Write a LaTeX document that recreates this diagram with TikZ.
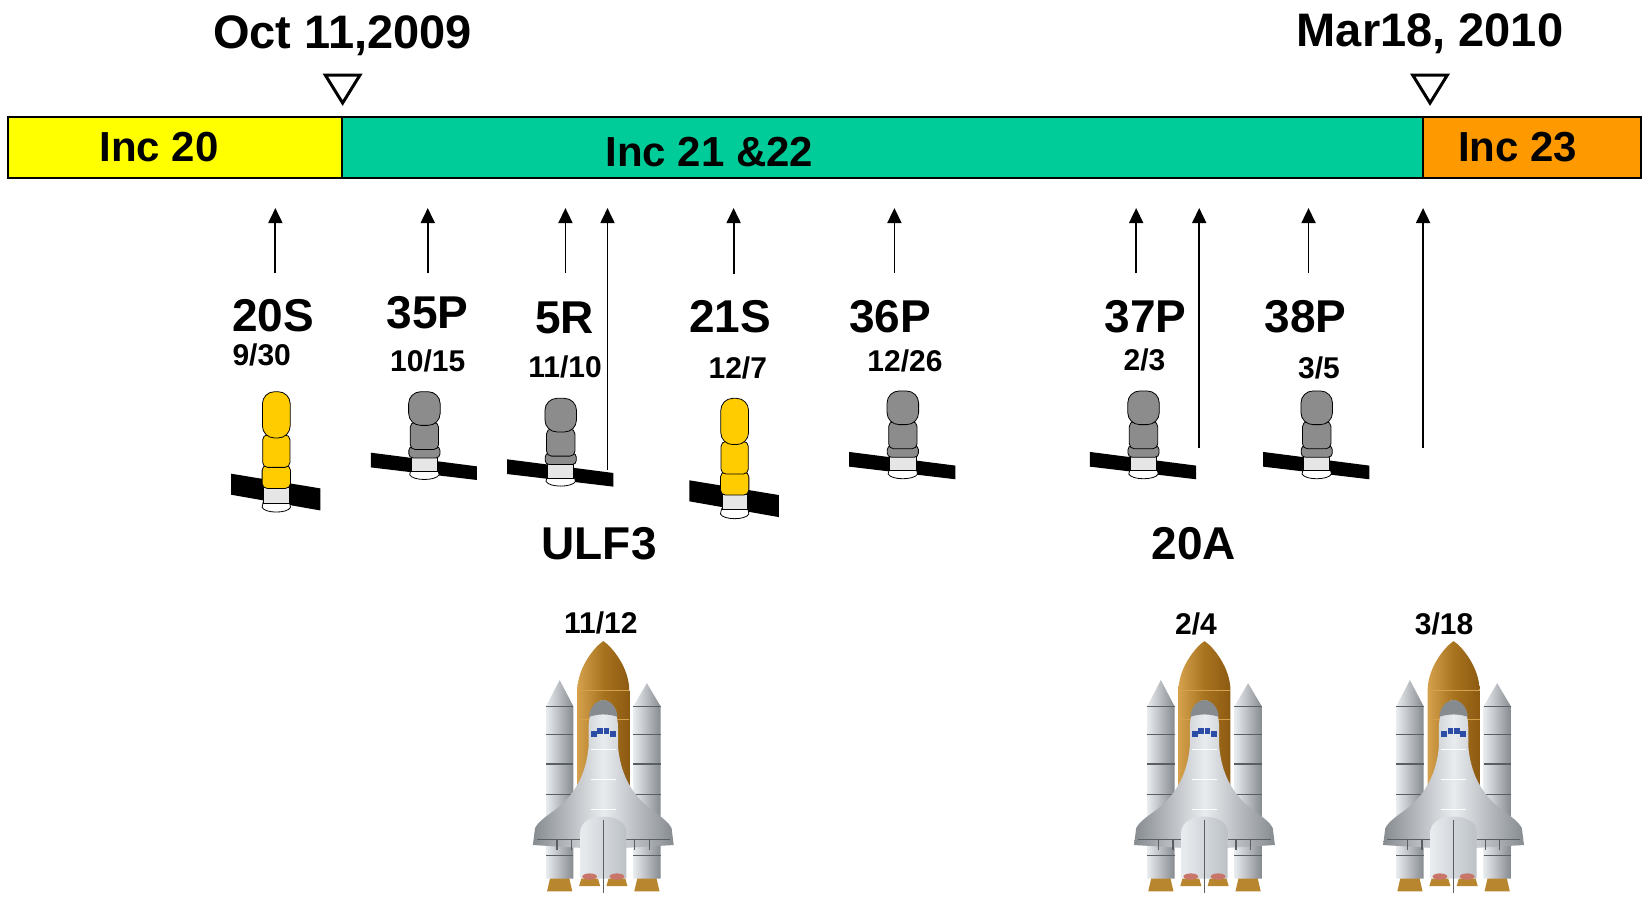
\documentclass[tikz,border=0pt]{standalone}
\usepackage{fontspec}
\setmainfont{Liberation Sans}
\usetikzlibrary{arrows.meta}
\definecolor{incyellow}{HTML}{FFFF00}
\definecolor{incgreen}{HTML}{00CC99}
\definecolor{incorange}{HTML}{FF9900}
\definecolor{soyuzgold}{HTML}{FFCC00}
\definecolor{progressgray}{HTML}{8C8C8C}
\definecolor{ringgray}{HTML}{E6E6E6}
\definecolor{tankmid}{HTML}{A8731F}
\definecolor{tanklight}{HTML}{D6A14D}
\definecolor{tankdark}{HTML}{8C5A12}
\definecolor{hullmid}{HTML}{BCC1C6}
\definecolor{hulllight}{HTML}{E9ECEF}
\definecolor{hulldark}{HTML}{868B90}
\definecolor{bandgray}{HTML}{5A5F64}
\definecolor{cockpit}{HTML}{2B4DA6}
\definecolor{nozzlebrown}{HTML}{B98630}
\definecolor{enginered}{HTML}{C9766A}

\begin{document}
\begin{tikzpicture}[x=1.051pt, y=-1.051pt]
   \tikzstyle{every node}=[inner sep=0pt]
   \tikzstyle{datefont}=[font=\fontsize{47}{47}\selectfont\bfseries]
   \tikzstyle{incfont}=[font=\fontsize{42}{42}\selectfont\bfseries]
   \tikzstyle{flight}=[font=\fontsize{46}{46}\selectfont\bfseries]
   \tikzstyle{day}=[font=\fontsize{30}{30}\selectfont\bfseries]
   \tikzstyle{phase}=[draw, line width=2pt]
   \tikzstyle{datemark}=[draw, line width=3pt, line join=miter]
   \tikzstyle{up}=[-{Triangle[length=15pt,width=14pt]}, line width=1.8pt, shorten >=30pt]
   \tikzstyle{icon}=[draw, line width=0.8pt]
   \tikzset{
      soyuz/.pic={
         \fill (-43,78) -- (42,92) -- (42,113) -- (-43,98) -- cycle;
         \draw[icon, fill=white] (-12.5,105) -- (12.5,105) -- (13.5,110) .. controls (11,116) and (-11,116) .. (-13.5,110) -- cycle;
         \draw[icon, fill=ringgray] (-12,91) rectangle (12,106);
         \draw[icon, fill=soyuzgold, rounded corners=5pt] (-13.5,70) rectangle (13.5,92);
         \draw[icon, fill=soyuzgold, rounded corners=5pt] (-13,41) rectangle (13,72);
         \draw[icon, fill=soyuzgold, rounded corners=12pt] (-13.2,0) rectangle (13.2,44);
      },
      progress/.pic={
         \fill (-51,58) -- (50,71) -- (50,84) -- (-51,72) -- cycle;
         \draw[icon, fill=white] (-13,75) -- (13,75) -- (14,79) .. controls (11,85) and (-11,85) .. (-14,79) -- cycle;
         \draw[icon, fill=ringgray] (-12.5,62) rectangle (12.5,76);
         \draw[icon, fill=progressgray, rounded corners=4pt] (-14.8,52) rectangle (14.8,63);
         \draw[icon, fill=progressgray, rounded corners=5pt] (-13.5,29) rectangle (13.5,55);
         \draw[icon, fill=progressgray, rounded corners=12pt] (-15,0) rectangle (15,32);
      },
      shuttle/.pic={
         \shade[left color=tanklight, right color=tankdark, middle color=tankmid] (-24.7,150) -- (-24.7,47) .. controls (-24.7,25) and (-8,5) .. (0,0) .. controls (8,5) and (24.7,25) .. (24.7,47) -- (24.7,150) -- cycle;
         \draw[tanklight, line width=0.6pt] (-24.7,47) -- (24.7,47) (-24.7,74) -- (24.7,74);
         \foreach \c/\t in {-41.5/37, 41.5/40} {
            \fill[nozzlebrown] (\c-9,225) -- (\c+9,225) -- (\c+12,238) -- (\c-12,238) -- cycle;
            \shade[left color=hulllight, right color=hulldark] (\c-13,226) -- (\c-13,62) -- (\c,\t) -- (\c+13,62) -- (\c+13,226) -- cycle;
            \foreach \y in {62,89,117,146,204} \draw[bandgray, line width=1.3pt] (\c-13,\y) -- (\c+13,\y);
         }
         \shade[left color=hulldark, right color=hulldark, middle color=hulllight] (0,56) .. controls (9,57) and (14,68) .. (14,84) -- (14,100) .. controls (16,125) and (26,145) .. (45,160) .. controls (55,167) and (62,172) .. (65,178) -- (67,194) -- (0,198) -- (-67,194) -- (-65,178) .. controls (-62,172) and (-55,167) .. (-45,160) .. controls (-26,145) and (-16,125) .. (-14,100) -- (-14,84) .. controls (-14,68) and (-9,57) .. (0,56) -- cycle;
         \fill[hulldark] (0,56) .. controls (9,57) and (13,65) .. (13.5,72) .. controls (5,69) and (-5,69) .. (-13.5,72) .. controls (-13,65) and (-9,57) .. (0,56);
         \foreach \wx in {-9,-3,3,9} \fill[cockpit] ({\wx-2.7},{82+0.04*\wx*\wx}) rectangle ++(5.4,6);
         \foreach \y in {103,131,160} \draw[white, line width=0.6pt] (-12,\y) -- (12,\y);
         \draw[bandgray, line width=1.2pt] (-63,189) -- (-22,189) (22,189) -- (63,189);
         \foreach \tx in {-44,-30,30,44} \draw[bandgray, line width=1.2pt] (\tx,189) -- (\tx,199);
         \shade[left color=hulllight, right color=hullmid] (-22,226) -- (-22,182) .. controls (-22,172) and (-12,167) .. (0,167) .. controls (12,167) and (22,172) .. (22,182) -- (22,226) -- cycle;
         \foreach \ex in {-13,13} {
            \fill[nozzlebrown] (\ex-8,226) -- (\ex+8,226) -- (\ex+10,233) -- (\ex-10,233) -- cycle;
            \fill[enginered] (\ex,224) ellipse (7 and 3);
         }
         \draw[bandgray, line width=1.2pt] (0,170) -- (0,240);
      }
   }

\useasboundingbox (0,0) rectangle (1568,854.5);

\node[datefont, anchor=base] (oct) at (326,45.7) {Oct 11,2009};
\node[datefont, anchor=base] (mar) at (1360.6,44.4) {Mar18, 2010};
\foreach \x in {326,1360.6}
   \draw[datemark] (\x-16.5,71.4) -- (\x+16.5,71.4) -- (\x,98) -- cycle;

\draw[phase, fill=incyellow] (7.9,111.3) rectangle (325,169.4);
\draw[phase, fill=incgreen] (325,111.3) rectangle (1354,169.4);
\draw[phase, fill=incorange] (1354,111.3) rectangle (1561.4,169.4);
\coordinate (barlow) at (0,169.4);
\node[incfont] (inc20) at (151.3,139.6) {Inc 20};
\node[incfont] (inc2122) at (675,144.3) {Inc 21 \&22};
\node[incfont] (inc23) at (1444,140.3) {Inc 23};

\node[flight] (s20) at (260,300) {20S};
\node[day] (s20d) at (249,338) {9/30};
\node[flight] (p35) at (407,297.5) {35P};
\node[day] (p35d) at (407,343) {10/15};
\node[flight] (r5) at (537,302.6) {5R};
\node[day] (r5d) at (537.6,349) {11/10};
\node[flight] (s21) at (694.6,301.6) {21S};
\node[day] (s21d) at (702,350) {12/7};
\node[flight] (p36) at (847,301.6) {36P};
\node[day] (p36d) at (861,343.5) {12/26};
\node[flight] (p37) at (1090,301.6) {37P};
\node[day] (p37d) at (1089,342.5) {2/3};
\node[flight] (p38) at (1242,301.6) {38P};
\node[day] (p38d) at (1255,350) {3/5};
\node[flight] (ulf) at (570,517) {ULF3};
\node[flight] (a20) at (1136,517) {20A};
\node[day] (ulfd) at (571.6,592.7) {11/12};
\node[day] (a20d) at (1138,594) {2/4};
\node[day] (endd) at (1374,594) {3/18};

\pic at (262.9,372.7) {soyuz};
\pic at (699,379) {soyuz};
\pic at (403.8,372.7) {progress};
\pic at (533.5,379) {progress};
\pic at (859,372) {progress};
\pic at (1088,372) {progress};
\pic at (1252.8,372) {progress};
\pic at (574,610) {shuttle};
\pic at (1146,610) {shuttle};
\pic at (1383,610) {shuttle};

\foreach \n/\x/\y in {s20/262/260, p35/407/260, r5/538/260, s21/698/261, p36/851/260, p37/1081/260, p38/1245/260, ulf/578/447, a20/1141/426, end/1354/426} {
   \coordinate (tail\n) at (\x,\y);
   \draw[up] (tail\n) -- (tail\n |- barlow);
}

\end{tikzpicture}
\end{document}
